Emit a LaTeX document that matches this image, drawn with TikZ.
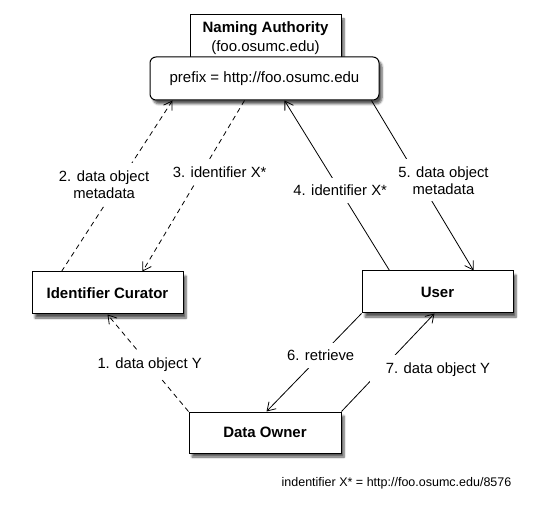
\documentclass[tikz,border=0pt]{standalone}
\usepackage{fontspec}
\setmainfont{Liberation Sans}
\usetikzlibrary{arrows.meta,shadows.blur}

\begin{document}
\begin{tikzpicture}[x=1pt, y=-1pt,
    box/.style={draw, fill=white, line width=1pt, minimum width=151pt, minimum height=42pt,
      font=\fontsize{15}{18.5}\selectfont\bfseries,
      blur shadow={shadow xshift=3pt, shadow yshift=-4pt, shadow blur steps=6, shadow opacity=65}},
    lbl/.style={fill=white, inner xsep=3pt, inner ysep=7pt, align=center, font=\fontsize{14.8}{17}\selectfont},
    arr/.style={line width=0.8pt, -{Straight Barb[length=8pt, width=10pt]}},
    dasharr/.style={arr, dash pattern=on 5pt off 4pt}]
    \useasboundingbox (0,0) rectangle (552,505);
    % Naming authority box
    \node[box, minimum height=46pt, align=center] (authority) at (265.5,38)
      {Naming Authority\\{\mdseries (foo.osumc.edu)}};
    % Prefix box
    \node[box, rounded corners=6pt, minimum width=229pt, minimum height=43pt,
      font=\fontsize{15}{18}\selectfont] (prefix) at (264.5,78.5) {prefix = http://foo.osumc.edu};
    % Curator, user and owner
    \node[box] (curator) at (107.5,293) {Identifier Curator};
    \node[box] (user) at (437.5,292) {User};
    \node[box, minimum width=152pt, minimum height=41pt] (owner) at (265,432.5) {Data Owner};
    % Steps
    \draw[dasharr] (owner.north west) -- node[lbl, pos=0.48] {1. data object Y}
      ([xshift=76pt]curator.south west);
    \draw[dasharr] ([xshift=30pt]curator.north west) -- node[lbl, pos=0.51, xshift=-14pt]
      {2. data object\\metadata} ([xshift=23pt]prefix.south west);
    \draw[dasharr] ([xshift=95pt]prefix.south west) -- node[lbl, pos=0.42, xshift=18pt]
      {3. identifier X*} ([xshift=111pt]curator.north west);
    \draw[arr] ([xshift=28pt]user.north west) -- node[lbl, pos=0.47] {4. identifier X*}
      ([xshift=135pt]prefix.south west);
    \draw[arr] ([xshift=222pt]prefix.south west) -- node[lbl, pos=0.47, xshift=24pt]
      {5. data object\\metadata} ([xshift=112pt]user.north west);
    \draw[arr] (user.south west) -- node[lbl, pos=0.43] {6. retrieve}
      ([xshift=78pt]owner.north west);
    \draw[arr] (owner.north east) -- node[lbl, pos=0.43, anchor=west, xshift=-12pt, inner xsep=16pt]
      {7. data object Y} ([xshift=73pt]user.south west);
    % Footnote
    \node[font=\fontsize{12.5}{15}\selectfont] (note) at (396.5,483)
      {indentifier X* = http://foo.osumc.edu/8576};
\end{tikzpicture}
\end{document}
